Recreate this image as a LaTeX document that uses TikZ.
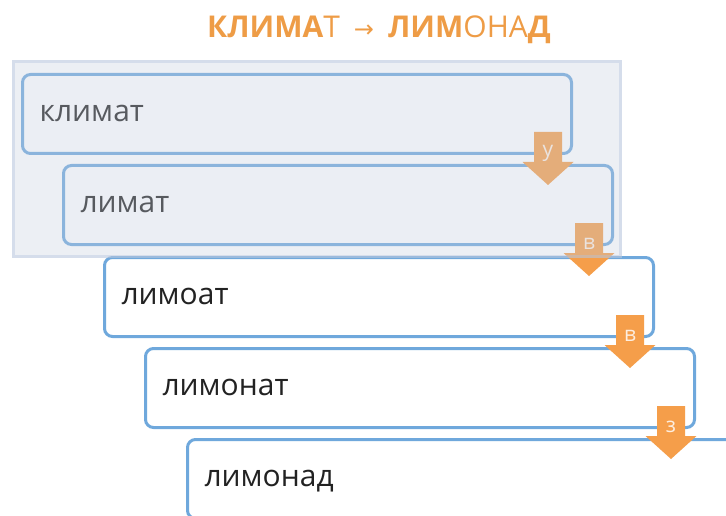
\documentclass[tikz,border=0pt]{standalone}
\usepackage{fontspec}
\setmainfont{Open Sans}
\newfontfamily\arrfont{DejaVu Sans}
\usetikzlibrary{calc}
\definecolor{boxline}{RGB}{111,168,220}
\definecolor{arrowc}{RGB}{245,158,74}
\definecolor{titlec}{RGB}{238,156,70}
\definecolor{txtc}{RGB}{34,34,34}
\definecolor{panelc}{RGB}{196,205,222}
\definecolor{panelb}{RGB}{180,196,222}
\definecolor{letc}{RGB}{253,238,224}
\tikzset{
  wordbox/.style={draw=boxline, line width=3pt, rounded corners=8pt, fill=white,
    anchor=north west, minimum height=79pt, text width=515pt, inner xsep=17pt,
    inner ysep=0pt, align=left, text height=22pt, text depth=7pt,
    font=\fontsize{30}{34}\selectfont, text=txtc},
  letter/.style={text=letc, font=\fontsize{21}{23}\selectfont, inner sep=0pt},
  downarrow/.style={fill=arrowc}
}
\newcommand\downarr[3]{% box name, letter, letter node name
  \fill[downarrow] ($(#1.south east)+(-39,-23)$) -- ($(#1.south east)+(-11,-23)$)
    -- ($(#1.south east)+(-11,7)$) -- ($(#1.south east)+(0.5,7)$)
    -- ($(#1.south east)+(-25,30)$) -- ($(#1.south east)+(-50.5,7)$)
    -- ($(#1.south east)+(-39,7)$) -- cycle;
  \node[letter] (#3) at ($(#1.south east)+(-25,-2)$) {#2};
}
\begin{document}
\begin{tikzpicture}[x=1pt,y=-1pt]
\useasboundingbox (0,0) rectangle (726,516);
\node[wordbox] (b1) at (21,73) {климат};
\node[wordbox] (b2) at (62,164) {лимат};
\node[wordbox] (b3) at (103,256) {лимоат};
\node[wordbox] (b4) at (144,347) {лимонат};
\node[wordbox] (b5) at (186,438) {лимонад};
\downarr{b1}{у}{l1}
\downarr{b2}{в}{l2}
\downarr{b3}{в}{l3}
\downarr{b4}{з}{l4}
\fill[panelc, fill opacity=0.33] (12,60) rectangle (622,258);
\draw[panelb, line width=3pt, opacity=0.4] (13.5,61.5) rectangle (620.5,256.5);
\node[anchor=base, text=titlec, font=\fontsize{30}{33}\selectfont, inner sep=0pt] (title) at (379,38)
  {{\bfseries КЛИМА}Т\hspace{14pt}{\arrfont\fontsize{24}{26}\selectfont →}\hspace{14pt}{\bfseries ЛИМ}ОНА{\bfseries Д}};
\end{tikzpicture}
\end{document}
